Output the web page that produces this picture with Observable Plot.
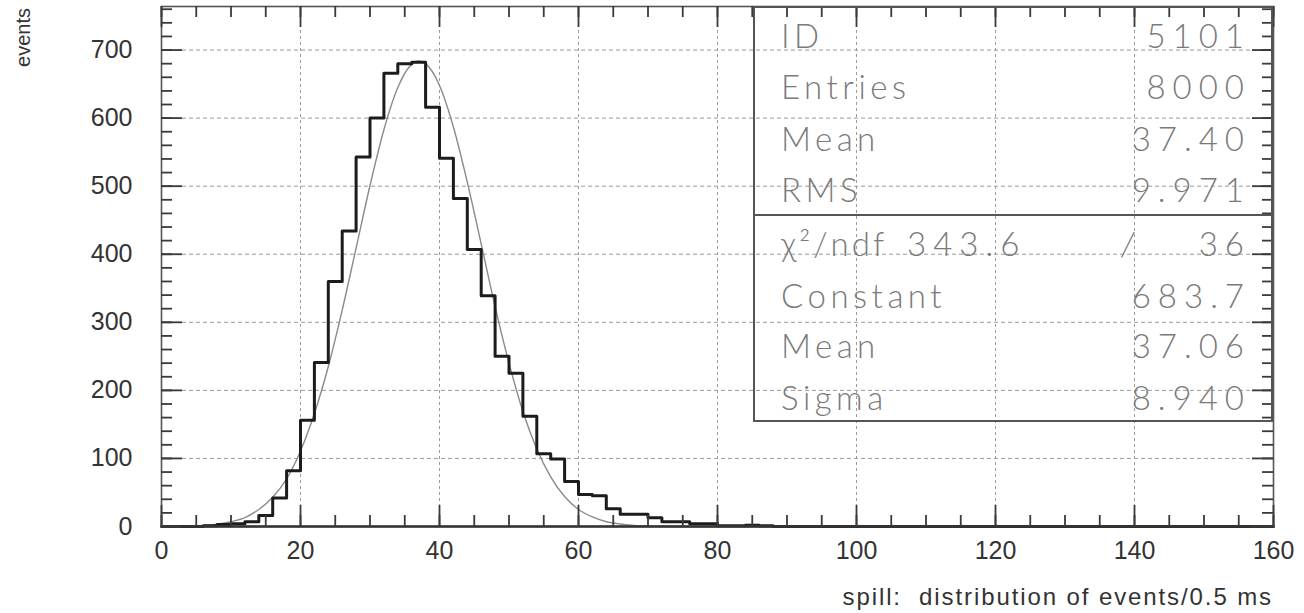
<!DOCTYPE html>
<html><head><meta charset="utf-8">
<script src="https://cdn.jsdelivr.net/npm/d3@7"></script>
<script src="https://cdn.jsdelivr.net/npm/@observablehq/plot@0.6"></script>
<style>
body{margin:0;background:#fff;}
#wrap{position:relative;width:1304px;height:613px;overflow:hidden;}
#stats{position:absolute;left:753px;top:6px;width:520px;height:416px;border:2px solid #555;box-sizing:border-box;font-family:Lato,"DejaVu Sans",sans-serif;font-weight:300;color:#7a7a7a;font-size:33px;letter-spacing:4.5px;}
#stats .row{position:absolute;left:26px;right:27px;height:40px;line-height:40px;}
#stats .l{position:absolute;left:0;white-space:nowrap;}
#stats .r{position:absolute;right:-7px;letter-spacing:7px;}
#stats .m{position:absolute;letter-spacing:7px;}
#stats .div{position:absolute;left:0;right:0;top:206px;border-top:2px solid #555;}
</style></head>
<body><div id="wrap"></div>
<script>
// histogram: lower bin edges (bin width 2) and counts
const binStart = [0,2,4,6,8,10,12,14,16,18,20,22,24,26,28,30,32,34,36,38,40,42,44,46,48,50,52,54,56,58,60,62,64,66,68,70,72,74,76,78,80,82,84,86,88];
const counts   = [0,0,0,1,3,4,7,16,42,82,156,241,360,434,543,600,666,680,682,616,541,482,407,339,250,225,162,107,99,66,47,45,26,18,18,13,7,7,4,4,1,1,2,1,0];
const histEnd = 160;
// fitted curve
const fitX = [0,2,4,6,8,10,12,14,16,18,20,22,24,26,28,30,32,34,36,37,38,40,42,44,46,48,50,52,54,56,58,60,62,64,66,68,70,72,74,76,80,160];
const fitY = [0.1,0.3,0.7,1.6,3.5,7,13,25,43,70,111,166,235,318,409,501,583,645,679,684,680,648,587,506,415,323,240,169,114,73,44,25,14,7,3.6,1.7,0.8,0.3,0.1,0.05,0,0];
// axes
const xTicks = [0,20,40,60,80,100,120,140,160];
const yTicks = [0,100,200,300,400,500,600,700];
const xGrid = [20,40,60,80,100,120,140];
const yGrid = [100,200,300,400,500,600,700];
const xMinor = [0,5,10,15,20,25,30,35,40,45,50,55,60,65,70,75,80,85,90,95,100,105,110,115,120,125,130,135,140,145,150,155,160];
const yMinor = [0,20,40,60,80,100,120,140,160,180,200,220,240,260,280,300,320,340,360,380,400,420,440,460,480,500,520,540,560,580,600,620,640,660,680,700,720,740,760];
// stats box
const statsTop = [["ID","5101"],["Entries","8000"],["Mean","37.40"],["RMS","9.971"]];
const fitStats = [["Constant","683.7"],["Mean","37.06"],["Sigma","8.940"]];
const chi2 = "343.6", ndf = "36";

const W = 1304, H = 613, mL = 161, mR = 31, mT = 6, mB = 87;
const majorLen = 21, minorLen = 11;
const pw = W - mL - mR, ph = H - mT - mB;

const hist = binStart.map((x,i)=>({x, y:counts[i]}));
hist.push({x:histEnd, y:0});
const fit = fitX.map((x,i)=>({x, y:fitY[i]}));
const tc = "#3a3a3a";
const tw = 1.8;
const id = d => d;

const chart = Plot.plot({
  width:W, height:H,
  marginLeft:mL, marginRight:mR, marginTop:mT, marginBottom:mB,
  x:{domain:[0,160]},
  y:{domain:[0,764]},
  style:{fontFamily:"'Liberation Sans', Arial, sans-serif", fontSize:"25px", color:"#333", background:"#fff"},
  marks:[
    Plot.gridX(xGrid,{stroke:"#9a9a9a", strokeOpacity:1, strokeDasharray:"3,3"}),
    Plot.gridY(yGrid,{stroke:"#9a9a9a", strokeOpacity:1, strokeDasharray:"4,3"}),
    Plot.line(fit,{x:"x", y:"y", curve:"monotone-x", stroke:"#8a8a8a", strokeWidth:1.4}),
    Plot.line(hist,{x:"x", y:"y", curve:"step-after", stroke:"#1c1c1c", strokeWidth:3}),
    Plot.axisX(xTicks,{anchor:"bottom", tickSize:0, tickPadding:15, label:null, fill:"#333", letterSpacing:"1.5px"}),
    Plot.axisY(yTicks,{anchor:"left", tickSize:0, tickPadding:29, label:null, fill:"#333", letterSpacing:"1.5px"}),
    Plot.frame({stroke:"#555", strokeWidth:1.6}),
    Plot.ruleY([0],{stroke:"#333", strokeWidth:2.5}),
    // inward ticks on all four sides
    Plot.tickX(xMinor,{x:id, insetTop:ph-minorLen, stroke:tc, strokeOpacity:1, strokeWidth:tw}),
    Plot.tickX(xTicks,{x:id, insetTop:ph-majorLen, stroke:tc, strokeOpacity:1, strokeWidth:tw}),
    Plot.tickX(xMinor,{x:id, insetBottom:ph-minorLen, stroke:tc, strokeOpacity:1, strokeWidth:tw}),
    Plot.tickX(xTicks,{x:id, insetBottom:ph-majorLen, stroke:tc, strokeOpacity:1, strokeWidth:tw}),
    Plot.tickY(yMinor,{y:id, insetRight:pw-minorLen, stroke:tc, strokeOpacity:1, strokeWidth:tw}),
    Plot.tickY(yTicks,{y:id, insetRight:pw-majorLen, stroke:tc, strokeOpacity:1, strokeWidth:tw}),
    Plot.tickY(yMinor,{y:id, insetLeft:pw-minorLen, stroke:tc, strokeOpacity:1, strokeWidth:tw}),
    Plot.tickY(yTicks,{y:id, insetLeft:pw-majorLen, stroke:tc, strokeOpacity:1, strokeWidth:tw})
  ]
});

const svg = d3.select(chart);
svg.append("text").attr("transform","translate(30,8) rotate(-90)")
  .attr("text-anchor","end").attr("font-size","20px").attr("fill","#333")
  .attr("font-family","'Liberation Sans', Arial, sans-serif").text("events");
svg.append("text").attr("x",1273).attr("y",605)
  .attr("text-anchor","end").attr("font-size","24px").attr("fill","#333")
  .attr("letter-spacing","1.9px")
  .attr("font-family","'Liberation Sans', Arial, sans-serif").style("white-space","pre")
  .text("spill:  distribution of events/0.5 ms");

const wrap = document.getElementById("wrap");
wrap.appendChild(chart);

const box = document.createElement("div");
box.id = "stats";
wrap.appendChild(box);
const rowTops = [7,58,110,161];
statsTop.forEach(([l,v],i)=>{
  const r = document.createElement("div"); r.className="row"; r.style.top=rowTops[i]+"px";
  r.innerHTML = `<span class="l">${l}</span><span class="r">${v}</span>`;
  box.appendChild(r);
});
const d = document.createElement("div"); d.className="div"; box.appendChild(d);
const cr = document.createElement("div"); cr.className="row"; cr.style.top="215px";
cr.innerHTML = `<span class="l" style="letter-spacing:3px">χ²/ndf</span><span class="m" style="left:126px">${chi2}</span><span class="m" style="left:340px"><i>/</i></span><span class="r">${ndf}</span>`;
box.appendChild(cr);
const fitTops = [267,317,369];
fitStats.forEach(([l,v],i)=>{
  const r = document.createElement("div"); r.className="row"; r.style.top=fitTops[i]+"px";
  r.innerHTML = `<span class="l">${l}</span><span class="r">${v}</span>`;
  box.appendChild(r);
});
</script></body></html>
